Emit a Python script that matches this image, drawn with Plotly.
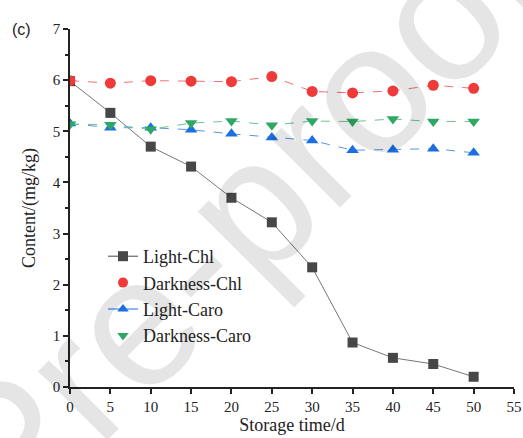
import plotly.graph_objects as go

# storage time (days)
days = [0, 5, 10, 15, 20, 25, 30, 35, 40, 45, 50]

# pigment content, mg/kg
light_chl = [5.98, 5.36, 4.70, 4.31, 3.70, 3.22, 2.34, 0.87, 0.57, 0.45, 0.20]
dark_chl = [5.99, 5.94, 5.99, 5.98, 5.97, 6.07, 5.78, 5.75, 5.79, 5.90, 5.84]
light_caro = [5.15, 5.07, 5.07, 5.03, 4.95, 4.88, 4.82, 4.63, 4.64, 4.66, 4.58]
dark_caro = [5.14, 5.13, 5.04, 5.16, 5.20, 5.12, 5.20, 5.19, 5.24, 5.19, 5.19]

names = ["Light-Chl", "Darkness-Chl", "Light-Caro", "Darkness-Caro"]
series = [light_chl, dark_chl, light_caro, dark_caro]
marker_colors = ["#474747", "#ef3a3a", "#1b6fe0", "#2fa865"]
line_colors = ["#777777", "#f07070", "#5a94e8", "#6cc290"]
symbols = ["square", "circle", "triangle-up", "triangle-down"]
dashes = ["solid", "dash", "dash", "dash"]
legend_modes = ["lines+markers", "markers", "lines+markers", "markers"]

serif = "Liberation Serif"
W, H = 523, 438
ML, MR, MT, MB = 70, 9, 29, 51
PW, PH = W - ML - MR, H - MT - MB


def px_to_paper(px, py):
    return (px - ML) / PW, (H - MB - py) / PH


fig = go.Figure()

for name, vals, mc, lc, sym, dash in zip(names, series, marker_colors,
                                         line_colors, symbols, dashes):
    fig.add_trace(go.Scatter(
        x=days, y=vals, mode="lines+markers", name=name, showlegend=False,
        legendgroup=name,
        line=dict(color=lc, width=1, dash=dash),
        marker=dict(symbol=sym, size=11 if sym != "square" else 10, color=mc),
    ))

# legend entries
for name, mc, sym, mode in zip(names, marker_colors, symbols, legend_modes):
    fig.add_trace(go.Scatter(
        x=[None], y=[None], mode=mode, name=name, legendgroup=name,
        line=dict(color=mc, width=1),
        marker=dict(symbol=sym, size=10, color=mc),
    ))

axis_common = dict(
    showline=True, linecolor="#222222", linewidth=1.5, mirror=False,
    ticks="outside", ticklen=5, tickwidth=1.5, tickcolor="#222222",
    showgrid=False, zeroline=False,
    tickfont=dict(family=serif, size=15, color="#222222"),
)

wm_x, wm_y = px_to_paper(6, 451)
lg_x, lg_y = px_to_paper(103, 238)

fig.update_layout(
    width=W, height=H,
    margin=dict(l=ML, r=MR, t=MT, b=MB, autoexpand=False),
    paper_bgcolor="white", plot_bgcolor="white",
    xaxis=dict(range=[0, 55], tickmode="linear", tick0=0, dtick=5,
               title=dict(text="Storage time/d", standoff=5,
                          font=dict(family=serif, size=18, color="#222222")),
               **axis_common),
    yaxis=dict(range=[0, 7], tickmode="linear", tick0=0, dtick=1,
               minor=dict(ticks="outside", ticklen=3, tickwidth=1.5,
                          tickcolor="#222222", dtick=0.5),
               title=dict(text="Content/(mg/kg)", standoff=12,
                          font=dict(family=serif, size=18, color="#222222")),
               **axis_common),
    legend=dict(x=lg_x, y=lg_y, xanchor="left", yanchor="top",
                bgcolor="rgba(0,0,0,0)", tracegroupgap=0,
                font=dict(family=serif, size=18, color="#222222")),
    annotations=[
        dict(text="(c)", xref="paper", yref="paper", x=(21 - ML) / PW, y=1.0,
             xanchor="center", yanchor="middle", showarrow=False,
             font=dict(family="Liberation Sans", size=16, color="#222222")),
        # translucent watermark so that everything beneath stays readable
        dict(text="Journal Pre-proof", xref="paper", yref="paper",
             x=wm_x, y=wm_y,
             xanchor="center", yanchor="middle", showarrow=False,
             textangle=-45,
             font=dict(family="Liberation Sans", size=185,
                       color="rgba(0,0,0,0.1)")),
    ],
)

fig.write_html("out.html")
